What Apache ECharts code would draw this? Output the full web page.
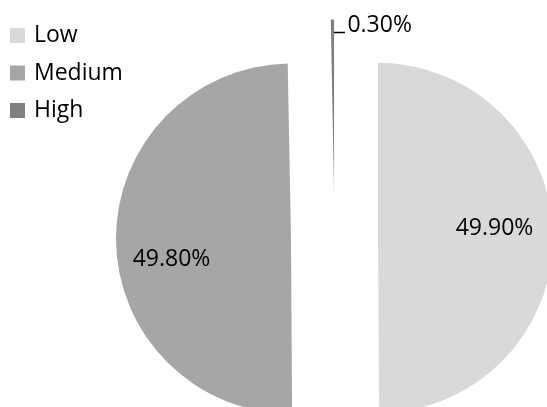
<!DOCTYPE html>
<html>
<head>
<meta charset="utf-8">
<style>html,body{margin:0;padding:0;background:#fff;}#c{width:547px;height:407px;}</style>
<script src="https://cdn.jsdelivr.net/npm/echarts@6/dist/echarts.min.js"></script>
</head>
<body>
<div id="c"></div>
<script>
const categories = ['Low', 'Medium', 'High'];
const values = [49.9, 49.8, 0.3];
const colors = ['#d9d9d9', '#a6a6a6', '#7f7f7f'];

const chart = echarts.init(document.getElementById('c'), null, {renderer: 'canvas'});
const FONT = "'Open Sans', sans-serif";

const data = categories.map((name, i) => ({
  name: name,
  value: values[i],
  selected: true,
  itemStyle: {color: colors[i]},
  select: {itemStyle: {color: colors[i], borderWidth: 0}},
  label: {position: values[i] < 5 ? 'outside' : 'inside'},
  labelLine: {show: values[i] < 5}
}));

chart.setOption({
  animation: false,
  legend: {
    orient: 'vertical',
    left: 10,
    top: 24,
    padding: 0,
    icon: 'rect',
    itemWidth: 15,
    itemHeight: 15,
    itemGap: 14.5,
    selectedMode: false,
    textStyle: {fontFamily: FONT, fontSize: 23, color: '#000', lineHeight: 23, padding: [0, 0, 0, 4]},
    data: categories
  },
  series: [{
    type: 'pie',
    center: [334.5, 238],
    radius: 175,
    startAngle: 90,
    clockwise: true,
    selectedMode: 'multiple',
    selectedOffset: 43.5,
    emphasis: {disabled: true, scale: false},
    avoidLabelOverlap: false,
    itemStyle: {borderWidth: 0},
    label: {
      show: true,
      fontFamily: FONT,
      fontSize: 23,
      color: '#000',
      formatter: p => p.value.toFixed(2) + '%'
    },
    labelLine: {length: 5, length2: 12, lineStyle: {color: '#000', width: 1.5}},
    labelLayout: function (p) {
      if (p.dataIndex === 0) return {dx: 26, dy: -9};
      if (p.dataIndex === 1) return {dx: -29, dy: 20};
      const cx = p.rect.x + p.rect.width / 2;
      const top = p.rect.y;
      return {
        dx: 32,
        dy: 11,
        align: 'left',
        verticalAlign: 'middle',
        labelLinePoints: [[cx + 0.5, top + 18], [cx + 0.5, top + 13], [cx + 12.5, top + 13]]
      };
    },
    data: data
  }]
});
</script>
</body>
</html>
